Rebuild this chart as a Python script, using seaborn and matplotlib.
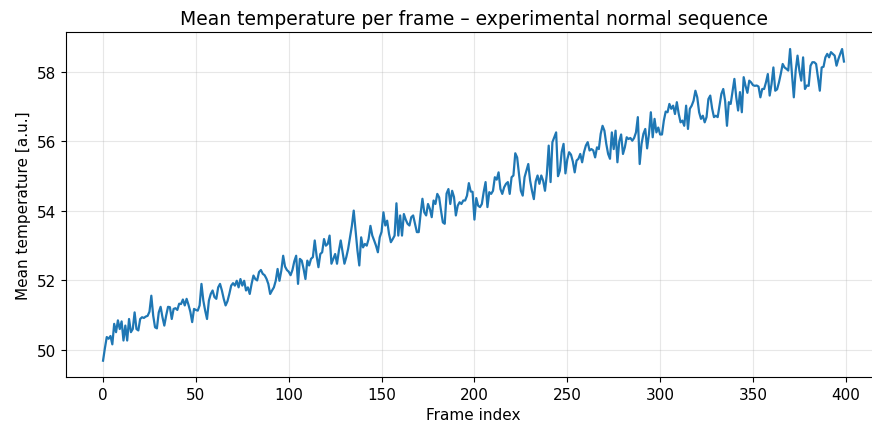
import numpy as np
import pandas as pd
import matplotlib
matplotlib.use("Agg")
import matplotlib.pyplot as plt
import seaborn as sns

# Mean temperature of every frame in the experimental normal sequence
mean_temp = [
    49.69, 50.05, 50.37, 50.32, 50.40, 50.16, 50.75, 50.51, 50.85, 50.60,
    50.82, 50.27, 50.70, 50.27, 50.89, 50.51, 50.60, 51.08, 50.60, 50.56,
    50.89, 50.94, 50.92, 50.96, 50.98, 51.10, 51.56, 50.99, 50.65, 50.62,
    51.08, 51.24, 50.94, 50.70, 50.99, 51.24, 51.23, 50.89, 51.18, 51.20,
    51.15, 51.33, 51.32, 51.45, 51.28, 51.47, 51.30, 51.10, 50.80, 51.18,
    51.15, 51.13, 51.28, 51.90, 51.42, 51.13, 50.89, 51.42, 51.61, 51.71,
    51.52, 51.47, 51.80, 51.90, 51.71, 51.47, 51.28, 51.40, 51.61, 51.85,
    51.92, 51.85, 51.99, 51.80, 52.04, 51.85, 51.99, 51.71, 51.80, 51.61,
    51.90, 52.14, 52.04, 52.00, 52.24, 52.30, 52.19, 52.15, 52.05, 51.90,
    51.61, 51.71, 51.80, 51.99, 52.33, 51.99, 52.28, 52.71, 52.40, 52.30,
    52.25, 52.15, 52.30, 52.55, 52.71, 51.90, 52.62, 52.57, 52.33, 52.04,
    52.57, 52.43, 52.62, 52.67, 53.15, 52.71, 52.38, 52.76, 52.81, 53.19,
    53.00, 53.05, 53.29, 52.48, 52.62, 52.76, 52.48, 52.85, 53.15, 52.81,
    52.48, 52.67, 52.91, 53.24, 53.57, 54.01, 53.43, 52.86, 52.43, 53.24,
    52.95, 53.05, 53.00, 53.19, 53.57, 53.29, 53.15, 53.00, 52.81, 53.24,
    53.40, 53.96, 53.58, 53.72, 53.34, 53.10, 53.19, 53.29, 54.22, 53.29,
    53.87, 53.29, 53.91, 53.75, 53.63, 53.58, 53.82, 53.87, 53.63, 53.39,
    53.39, 53.91, 54.35, 53.96, 53.87, 54.20, 54.06, 53.82, 54.30, 54.20,
    54.49, 54.39, 54.01, 53.67, 53.63, 54.50, 54.63, 54.20, 54.58, 54.40,
    53.87, 54.15, 54.25, 54.20, 54.30, 54.30, 54.44, 54.80, 54.56, 54.55,
    53.75, 54.37, 54.15, 54.11, 54.20, 54.55, 54.83, 54.11, 54.54, 54.49,
    54.58, 54.97, 54.90, 55.11, 54.63, 54.49, 54.68, 54.78, 54.83, 54.49,
    54.97, 55.02, 55.66, 55.54, 55.06, 54.58, 54.44, 54.97, 55.16, 55.35,
    54.87, 54.58, 54.34, 54.85, 55.02, 54.78, 55.02, 54.87, 54.58, 55.06,
    55.88, 54.83, 55.98, 56.12, 56.26, 55.00, 55.16, 55.70, 55.93, 55.08,
    55.48, 55.69, 55.62, 55.42, 55.11, 55.45, 55.50, 55.64, 55.40, 55.69,
    55.88, 55.98, 55.74, 55.78, 55.74, 55.54, 55.83, 55.78, 56.22, 56.45,
    56.31, 55.93, 55.64, 55.50, 56.26, 55.78, 56.31, 55.40, 56.00, 56.20,
    55.64, 55.83, 56.12, 56.07, 56.10, 56.02, 56.10, 56.26, 56.70, 55.35,
    55.93, 56.22, 56.36, 55.80, 56.22, 56.84, 56.12, 56.65, 56.26, 56.40,
    56.20, 56.20, 56.60, 56.86, 56.84, 57.08, 56.94, 57.03, 56.79, 57.13,
    56.80, 56.55, 56.60, 56.45, 57.03, 56.36, 56.94, 57.03, 57.17, 57.46,
    57.27, 56.84, 56.65, 56.74, 56.55, 56.70, 57.22, 57.32, 56.95, 56.70,
    56.74, 56.70, 57.03, 57.37, 57.51, 57.17, 56.45, 57.13, 57.08, 57.45,
    57.80, 57.27, 56.89, 57.42, 56.84, 57.85, 57.60, 57.40, 57.75, 57.70,
    57.62, 57.60, 57.61, 57.58, 57.27, 57.51, 57.51, 57.70, 57.94, 57.32,
    57.65, 58.13, 57.46, 57.50, 57.70, 57.95, 58.23, 58.13, 58.09, 58.04,
    58.66, 57.94, 57.27, 58.04, 58.47, 58.04, 57.75, 58.42, 57.51, 57.61,
    57.60, 58.18, 58.28, 58.28, 58.23, 57.85, 57.46, 58.13, 58.15, 58.42,
    58.52, 58.42, 58.57, 58.52, 58.47, 58.18, 58.37, 58.52, 58.66, 58.30,
]
frame_index = list(range(len(mean_temp)))

x_ticks = [0, 50, 100, 150, 200, 250, 300, 350, 400]
y_ticks = [50, 52, 54, 56, 58]

df = pd.DataFrame({"frame": frame_index, "temp": mean_temp})

plt.rcParams["font.family"] = ["DejaVu Sans"]
fig = plt.figure(figsize=(8.72, 4.27), dpi=100)
# axes runs a little past the right edge of the canvas
ax = fig.add_axes([66 / 872, 49 / 427, 815 / 872, 345 / 427])

sns.lineplot(data=df, x="frame", y="temp", ax=ax, color="#1f77b4", linewidth=1.6)

ax.set_xticks(x_ticks)
ax.set_yticks(y_ticks)
ax.set_xlim(-19.95, 418.95)
ax.set_ylim(49.22, 59.15)
ax.grid(True, color="#b0b0b0", alpha=0.3, linewidth=0.8)
ax.tick_params(labelsize=11)
ax.set_xlabel("Frame index", fontsize=11)
ax.set_ylabel("Mean temperature [a.u.]", fontsize=11)
ax.set_title("Mean temperature per frame – experimental normal sequence", fontsize=13.5)

fig.savefig("out.png", dpi=100)
